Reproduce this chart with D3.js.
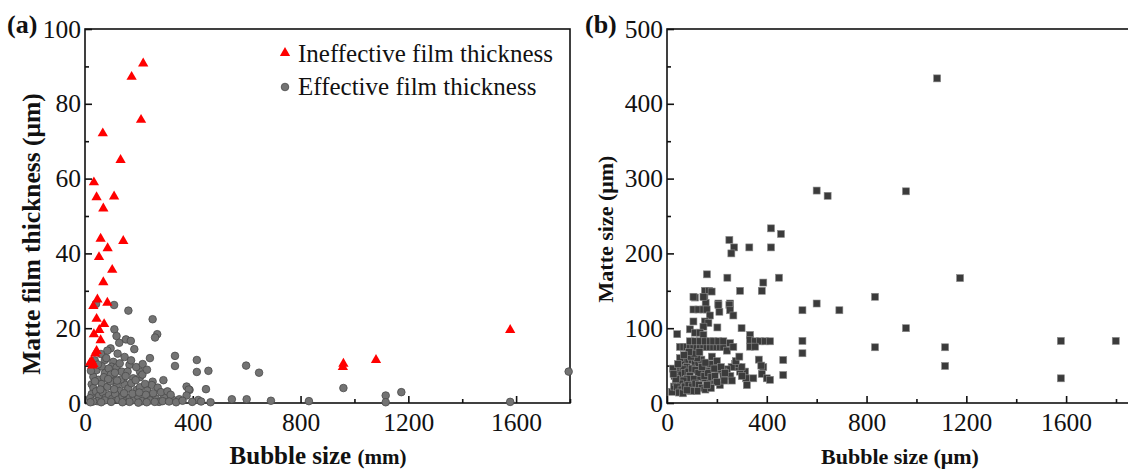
<!DOCTYPE html>
<html>
<head>
<meta charset="utf-8">
<script src="https://cdn.jsdelivr.net/npm/d3@7"></script>
<style>
  body { margin: 0; background: #fff; }
  svg text { font-family: "Liberation Serif", "Times New Roman", serif; fill: #111; }
</style>
</head>
<body>
<div id="chart"></div>
<script>
// (a) ineffective film thickness: [bubble size, film thickness]
const ineffective = [
  [216,90.8],[173,87.2],[208,75.7],[66,72.1],[132,65],[33,59],[43,55],[108,55.2],[68,52],
  [58,43.9],[142,43.3],[84,41.4],[52,39],[101,35.6],[68,32.3],[46,27.7],[83,26.8],[31,25.9],
  [43,22.5],[71,21.1],[53,19.5],[33,18.4],[58,16.8],[43,13.9],[38,13.2],[19,10.8],[31,10.4],
  [25,11.2],[27,10],[959,10.5],[957,9.6],[1080,11.5],[1578,19.5]
];

// (a) effective film thickness
const effective = [
  [41,26.5],[108,26.2],[161,24.7],[251,22.4],[109,19.7],[268,18.4],[260,17.5],[117,17.9],[152,17],
  [170,16.6],[127,16.1],[183,14.4],[95,14.6],[83,14],[241,12],[334,12.6],[415,11.5],[334,9.9],
  [415,8.3],[458,8.6],[598,10],[646,8.1],[291,6.1],[251,5.7],[248,4.8],[270,4.1],[377,4.4],
  [388,3.5],[449,3.7],[545,1],[600,1],[690,0.6],[466,0.2],[959,4],[1116,2],[1174,2.9],[831,0.5],
  [1116,0.2],[1578,0.3],[1795,8.4],
  [59,13.1],[74,11.5],[79,12],[105,11],[99,9.7],[117,9.5],[136,8.4],[165,10.2],[158,8.4],[204,8.4],
  [204,6.9],[179,6.6],[142,6.1],[105,6.9],[74,8],[43,8.8],[31,7],[25,5],[31,4],[25,2.4],[19,1.3],
  [192,3.5],[204,4.2],[235,1.5],[263,1.2],[294,1.6],[325,0.9],[350,1],[385,3.6],[377,2],[420,0.8],
  [275,0.3],[121,13.2],[147,12.3],[62,9.8],[88,9.2],[129,10.6],[171,11.4],[190,9.6],[214,10.4],
  [51,6.2],[62,5.1],[83,4.3],[94,5.8],[118,4.7],[129,3.2],[148,4.9],[161,3.9],[172,5.3],[223,5.1],
  [231,3.3],[253,2.6],[282,2.9],[306,3.1],[318,2.2],[41,3.1],[52,1.9],[66,2.8],[77,1.4],[89,2.1],
  [101,1.1],[112,2.4],[124,0.9],[139,1.8],[152,0.6],[166,1.4],[181,0.8],[196,1.9],[212,0.5],[226,2.2],
  [242,0.7],[259,0.3],[288,0.5],[312,0.4],[338,0.2],[362,0.6],[398,0.3],[431,0.4],[22,8.6],[36,11.4],
  [48,10.3],[70,6.9],[96,7.6],[111,8.1],[133,6.3],[151,7.2],[188,6.1],[213,7.6],[230,8.9],[57,3.6],
  [73,0.7],[45,0.5],[30,0.4],[20,0.2],[108,3.7],[145,2.6],[176,2.5],[201,2.8],[119,6],[165,0.3],
  [86,6.4],[37,5.8],[229,0.2],[198,0.1],[139,0.2],[97,0.3],[60,0.2]
];

// (b) matte size vs bubble size
const matte = [
  [1083,434],[958,283],[600,284],[644,277],[417,233.5],[457,226],[250,218],[269,208],[330,208],
  [417,208],[258,200],[160,172],[242,167.5],[449,167.5],[386,161],[380,150],[293,150],[152,150],
  [169,150],[150,142],[112,141],[206,133],[155,134],[253,133],[600,133],[1175,167],[834,142],
  [958,100],[834,74.5],[1115,74.5],[1115,49.5],[1579,83],[1579,33],[1799,83],[691,124],[543,124],
  [543,83],[543,66.5],[466,57.5],[466,37.4],
  [106,142],[146,142],[179,149],[106,125],[126,125],[146,125],[159,125],[172,117],[206,131],[210,122],
  [250,131],[253,124],[266,117],[106,109],[152,109],[166,107],[146,102],[202,101],[299,100],[92,98.5],
  [41,92],[112,94],[132,94],[146,91],
  [52,75],[66,75],[79,75],[92,75],[106,75],[119,75],[132,75],[146,75],[159,75],[172,75],[186,75],
  [199,75],[212,75],[226,75],[92,82.5],[112,82.5],[132,82.5],[152,82.5],[172,82.5],[186,82.5],
  [206,82.5],[226,82.5],[240,70],[253,80],[266,75],[333,91],[333,84],[353,82.5],[373,82.5],[393,82.5],
  [413,82.5],[333,75.3],[353,75.3],[386,48],[380,39],[400,33],[413,31],[346,33],[313,42],[317,33],
  [320,24],[293,42],[286,48],[299,48],[273,52],[259,48],[240,45],[226,42],[206,44],[186,48],[159,43],
  [146,45],[173,52],[254,36],[226,36],[212,24],[186,30],[166,28],[146,33],[126,35],
  [20,15],[28,22],[35,28],[42,33],[30,36],[38,40],[46,44],[24,46],[52,50],[60,54],[72,56],[86,58],
  [100,57],[112,55],[126,53],[138,58],[120,60],[96,62],[80,48],[66,45],[58,38],[72,40],[86,42],
  [100,46],[114,44],[126,40],[92,36],[106,32],[80,32],[66,30],[52,26],[40,21],[58,18],[48,14],
  [64,13],[72,22],[86,24],[100,22],[114,26],[128,24],[140,20],[154,18],[120,16],[96,16],[80,17],
  [36,32],[26,39],[150,36],[164,40],[178,35],[192,36],[200,28],[140,48],[154,54],[180,62],[190,46],
  [52,60],[44,52],[110,66],[130,68],[88,68],[68,64],[200,56],[216,48],[232,40],[276,56],[290,62],
  [368,58],[378,50],[300,36],[260,30],[176,20],[160,24],[230,30]
];

const xTicksMajor = [0, 400, 800, 1200, 1600];
const xTicksMinor = [200, 600, 1000, 1400, 1800];
const yTicksA = [0, 20, 40, 60, 80, 100];
const yMinorA = [10, 30, 50, 70, 90];
const yTicksB = [0, 100, 200, 300, 400, 500];
const yMinorB = [50, 150, 250, 350, 450];

const width = 1128, height = 469;
const svg = d3.select('#chart').append('svg')
  .attr('width', width).attr('height', height);

function drawFrame(x, y, yMajor, yMinor, frameRight) {
  const g = svg.append('g');
  const [x0] = x.range();
  const [yb, yt] = y.range();
  // box
  g.append('rect').attr('x', x0).attr('y', yt)
    .attr('width', frameRight - x0).attr('height', yb - yt)
    .attr('fill', 'none').attr('stroke', '#111').attr('stroke-width', 1.6);

  const xAxis = d3.axisBottom(x).tickValues(xTicksMajor).tickFormat(d3.format('d'))
    .tickSize(-7).tickSizeOuter(0).tickPadding(10);
  const xMinor = d3.axisBottom(x).tickValues(xTicksMinor).tickSize(-4).tickSizeOuter(0).tickFormat('');
  const yAxis = d3.axisLeft(y).tickValues(yMajor).tickFormat(d3.format('d'))
    .tickSize(-7).tickSizeOuter(0).tickPadding(4);
  const yMin = d3.axisLeft(y).tickValues(yMinor).tickSize(-4).tickSizeOuter(0).tickFormat('');

  [xAxis, xMinor].forEach(a => {
    g.append('g').attr('transform', `translate(0,${yb})`).call(a)
      .call(s => s.select('.domain').remove());
  });
  [yAxis, yMin].forEach(a => {
    g.append('g').attr('transform', `translate(${x0},0)`).call(a)
      .call(s => s.select('.domain').remove());
  });
  g.selectAll('.tick line').attr('stroke', '#111').attr('stroke-width', 1.6);
  g.selectAll('.tick text').style('font-size', '25.5px').style('font-family', '"Liberation Serif", serif').attr('fill', '#111');
  return g;
}

// ---------- panel (a) ----------
const xA = d3.scaleLinear().domain([0, 1800]).range([85, 570]);
const yA = d3.scaleLinear().domain([0, 100]).range([403, 29]);
drawFrame(xA, yA, yTicksA, yMinorA, 570);

const circ = svg.append('g');
circ.selectAll('circle').data(effective).enter().append('circle')
  .attr('cx', d => xA(d[0])).attr('cy', d => yA(d[1])).attr('r', 3.8)
  .attr('fill', '#737373').attr('stroke', '#4a4a4a').attr('stroke-width', 0.8);

const tri = d3.symbol().type(d3.symbolTriangle).size(46);
svg.append('g').selectAll('path').data(ineffective).enter().append('path')
  .attr('transform', d => `translate(${xA(d[0])},${yA(d[1])})`)
  .attr('d', tri).attr('fill', '#ff0000');

// legend
const lg = svg.append('g');
lg.append('path').attr('transform', 'translate(285,53)').attr('d', tri).attr('fill', '#ff0000');
lg.append('circle').attr('cx', 285).attr('cy', 87).attr('r', 3.8)
  .attr('fill', '#737373').attr('stroke', '#4a4a4a').attr('stroke-width', 0.8);
lg.append('text').attr('x', 298).attr('y', 62).style('font-size', '25px').text('Ineffective film thickness');
lg.append('text').attr('x', 298).attr('y', 95).style('font-size', '25px').text('Effective film thickness');

svg.append('text').attr('x', 7).attr('y', 33).style('font-size', '26px').style('font-weight', 'bold').text('(a)');

const tA = svg.append('text').attr('x', 318).attr('y', 464).attr('text-anchor', 'middle')
  .style('font-weight', 'bold').style('font-size', '25px');
tA.append('tspan').text('Bubble size ');
tA.append('tspan').style('font-size', '21px').text('(mm)');

svg.append('text').attr('transform', 'translate(40,234) rotate(-90)').attr('text-anchor', 'middle')
  .style('font-weight', 'bold').style('font-size', '25.5px').text('Matte film thickness (μm)');

// ---------- panel (b) ----------
const xB = d3.scaleLinear().domain([0, 1800]).range([667, 1116]);
const yB = d3.scaleLinear().domain([0, 500]).range([403, 29]);
drawFrame(xB, yB, yTicksB, yMinorB, 1140);

svg.append('g').selectAll('rect').data(matte).enter().append('rect')
  .attr('x', d => xB(d[0]) - 3.5).attr('y', d => yB(d[1]) - 3.5)
  .attr('width', 7).attr('height', 7)
  .attr('fill', '#3b3b3b').attr('stroke', '#8a8a8a').attr('stroke-width', 0.6);

svg.append('text').attr('x', 585).attr('y', 33).style('font-size', '26px').style('font-weight', 'bold').text('(b)');

svg.append('text').attr('x', 900).attr('y', 464).attr('text-anchor', 'middle')
  .style('font-weight', 'bold').style('font-size', '22px').text('Bubble size (μm)');

svg.append('text').attr('transform', 'translate(613,229) rotate(-90)').attr('text-anchor', 'middle')
  .style('font-weight', 'bold').style('font-size', '22px').text('Matte size (μm)');
</script>
</body>
</html>
